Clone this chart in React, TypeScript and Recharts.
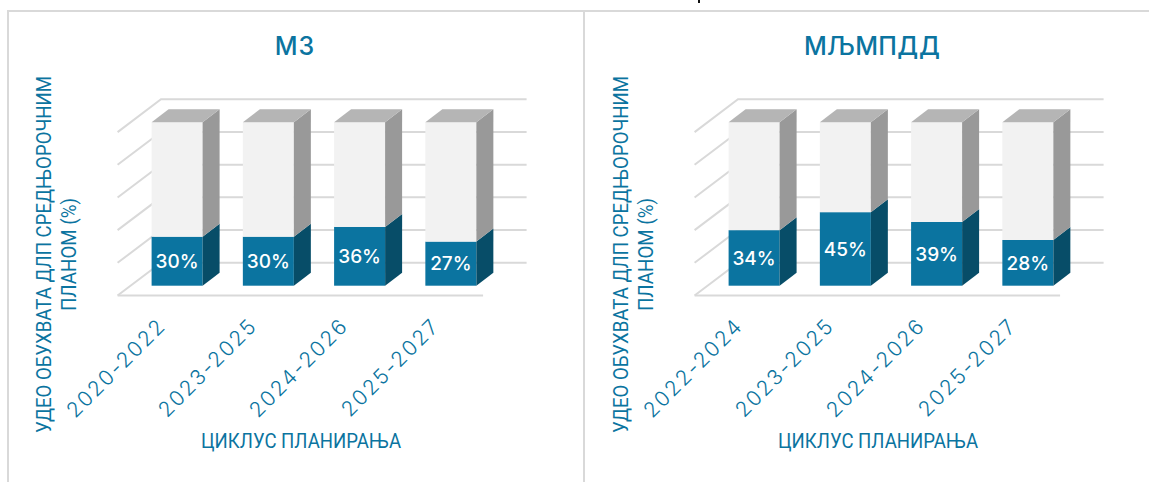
/**
 * Two pseudo-3D stacked bar panels (share of planned DLP per planning cycle)
 */

import { BarChart, Bar, XAxis, YAxis, CartesianGrid, LabelList } from 'recharts'

const mzCycles = ['2020-2022', '2023-2025', '2024-2026', '2025-2027']
const mzShare = [30, 30, 36, 27]
const mzRest = [70, 70, 64, 73]

const mljCycles = ['2022-2024', '2023-2025', '2024-2026', '2025-2027']
const mljShare = [34, 45, 39, 28]
const mljRest = [66, 55, 61, 72]

const yTicks = [0, 20, 40, 60, 80, 100]

const BLUE = '#0b74a0'
const TEXT_FONT = 'Roboto, sans-serif'
const NUM_FONT = 'Inter, sans-serif'
const GRID = '#d9d9d9'

const PLOT_TOP = 122.3
const PLOT_BOTTOM = 285.7
const DEPTH_X = 17
const DEPTH_Y = 13

function Cuboid(props: any) {
  const { x, y, width, height, fill, side, top } = props
  const r = x + width
  return (
    <g>
      <rect x={x} y={y} width={width} height={height} fill={fill} />
      <polygon
        points={`${r},${y} ${r + DEPTH_X},${y - DEPTH_Y} ${r + DEPTH_X},${y + height - DEPTH_Y} ${r},${y + height}`}
        fill={side}
      />
      {top && (
        <polygon
          points={`${x},${y} ${x + DEPTH_X},${y - DEPTH_Y} ${r + DEPTH_X},${y - DEPTH_Y} ${r},${y}`}
          fill={top}
        />
      )}
    </g>
  )
}

// one grid line folded over the side wall and the back wall
function FoldedLine(props: any) {
  const { x1, x2, y1, key } = props
  const isFloor = Math.abs(y1 - PLOT_BOTTOM) < 1
  return (
    <g key={key}>
      <polyline
        points={`${x1 - 14},${y1 + 9.8} ${x1 + 29.4},${y1 - 23} ${x2 + 30},${y1 - 23}`}
        fill="none"
        stroke={GRID}
        strokeWidth={2}
      />
      {isFloor && <line x1={x1 - 14} y1={y1 + 9.8} x2={x2 - 13.5} y2={y1 + 9.8} stroke={GRID} strokeWidth={2} />}
    </g>
  )
}

function CycleTick({ x, payload }: any) {
  return (
    <text
      x={x - 10}
      y={327}
      transform={`rotate(-45 ${x - 10} 327)`}
      textAnchor="end"
      fontFamily={NUM_FONT}
      fontWeight={300}
      fontSize={21}
      letterSpacing={2}
      fill={BLUE}
    >
      {payload.value}
    </text>
  )
}

interface PanelProps {
  title: string
  spacing: number
  cycles: string[]
  share: number[]
  rest: number[]
  left: number
}

function Panel({ title, spacing, cycles, share, rest, left }: PanelProps) {
  const data = cycles.map((cycle, i) => ({ cycle, share: share[i], rest: rest[i] }))

  return (
    <div style={{ position: 'absolute', left, top: 0 }}>
      <BarChart
        width={572}
        height={482}
        data={data}
        margin={{ top: PLOT_TOP, right: 75.4, bottom: 96.3, left: 131.6 }}
      >
        <CartesianGrid vertical={false} horizontal={FoldedLine} />
        <XAxis dataKey="cycle" height={100} axisLine={false} tickLine={false} interval={0} tick={<CycleTick />} />
        <YAxis hide domain={[0, 100]} ticks={yTicks} />
        <Bar
          dataKey="share"
          stackId="a"
          barSize={51}
          fill={BLUE}
          isAnimationActive={false}
          shape={<Cuboid side="#074d68" />}
        >
          <LabelList
            dataKey="share"
            position="center"
            formatter={(v: any) => `${v}%`}
            fill="#fff"
            fontFamily={NUM_FONT}
            fontWeight={500}
            fontSize={19}
          />
        </Bar>
        <Bar
          dataKey="rest"
          stackId="a"
          barSize={51}
          fill="#f2f2f2"
          isAnimationActive={false}
          shape={<Cuboid side="#999999" top="#b5b5b5" />}
        />
        <text
          x={295}
          y={55}
          textAnchor="middle"
          fontFamily={NUM_FONT}
          fontWeight={500}
          fontSize={25}
          letterSpacing={spacing}
          fill={BLUE}
        >
          {title}
        </text>
        <text
          x={301}
          y={448}
          textAnchor="middle"
          fontFamily={TEXT_FONT}
          fontSize={20}
          textLength={200}
          lengthAdjust="spacingAndGlyphs"
          fill={BLUE}
        >
          ЦИКЛУС ПЛАНИРАЊА
        </text>
        <text
          transform="translate(51 254.5) rotate(-90)"
          textAnchor="middle"
          fontFamily={TEXT_FONT}
          fontSize={20}
          textLength={357}
          lengthAdjust="spacingAndGlyphs"
          fill={BLUE}
        >
          УДЕО ОБУХВАТА ДЛП СРЕДЊОРОЧНИМ
        </text>
        <text
          transform="translate(75.5 254.5) rotate(-90)"
          textAnchor="middle"
          fontFamily={TEXT_FONT}
          fontSize={20}
          textLength={113}
          lengthAdjust="spacingAndGlyphs"
          fill={BLUE}
        >
          ПЛАНОМ (%)
        </text>
      </BarChart>
    </div>
  )
}

export default function App() {
  return (
    <div style={{ position: 'absolute', left: 0, top: 0, width: 1149, height: 482, overflow: 'hidden', background: '#fff' }}>
      <Panel title="МЗ" spacing={1} cycles={mzCycles} share={mzShare} rest={mzRest} left={0} />
      <Panel title="МЉМПДД" spacing={0.3} cycles={mljCycles} share={mljShare} rest={mljRest} left={577} />
      <div style={{ position: 'absolute', left: 7, top: 10, width: 1142, height: 2, background: GRID }} />
      <div style={{ position: 'absolute', left: 7, top: 10, width: 2, height: 472, background: GRID }} />
      <div style={{ position: 'absolute', left: 583, top: 10, width: 2, height: 472, background: GRID }} />
      {/* stem of a cropped caption letter at the very top of the source image */}
      <div style={{ position: 'absolute', left: 698, top: 0, width: 2, height: 3, background: '#111' }} />
    </div>
  )
}
